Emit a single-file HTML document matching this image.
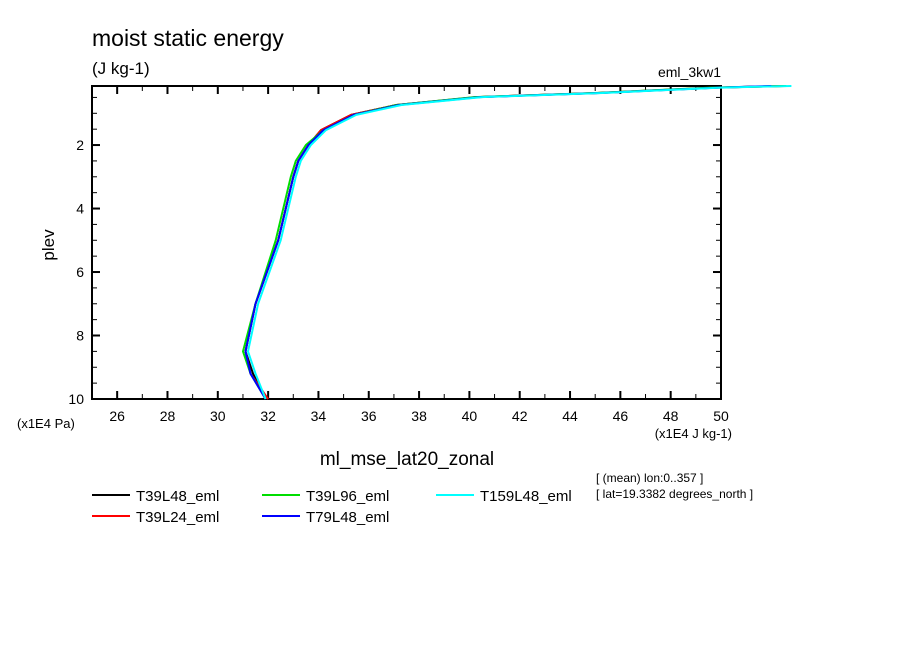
<!DOCTYPE html>
<html><head><meta charset="utf-8"><style>
body{margin:0;background:#fff;}
svg{display:block;font-family:"Liberation Sans",sans-serif;}
</style></head><body>
<svg id="chart" width="904" height="654" xmlns="http://www.w3.org/2000/svg">
<text x="92" y="46" font-size="23">moist static energy</text>
<text x="92" y="74" font-size="17">(J kg-1)</text>
<text x="721" y="77" font-size="14" text-anchor="end">eml_3kw1</text>
<text transform="translate(54,245) rotate(-90)" font-size="17" text-anchor="middle">plev</text>
<text x="17" y="428" font-size="13">(x1E4 Pa)</text>
<text x="732" y="438" font-size="13" text-anchor="end">(x1E4 J kg-1)</text>
<text x="407" y="465" font-size="19" text-anchor="middle">ml_mse_lat20_zonal</text>
<text x="596" y="482" font-size="12">[ (mean) lon:0..357 ]</text>
<text x="596" y="498" font-size="12">[ lat=19.3382 degrees_north ]</text>
<g id="axes"></g>
<g id="series"></g>
<g id="legend"></g>
</svg>
<script>
const levels = [0.14, 0.19, 0.36, 0.49, 0.74, 1.05, 1.53, 2.0, 2.5, 3.0, 5.0, 7.0, 8.5, 9.2, 10.0];
const seriesNames = ["T39L48_eml","T39L24_eml","T39L96_eml","T79L48_eml","T159L48_eml"];
const seriesColors = ["#000000","#ff0000","#00dd00","#0000ff","#00ffff"];
const valsT39L48 = [52.4, 49.8, 45.1, 40.3, 37.1, 35.3, 34.1, 33.6, 33.2, 33.0, 32.4, 31.5, 31.1, 31.4, 31.9];
const valsT39L24 = [52.5, 49.8, 45.1, 40.3, 37.1, 35.3, 34.1, 33.6, 33.2, 33.0, 32.4, 31.5, 31.1, 31.3, 32.0];
const valsT39L96 = [52.6, 49.6, 45.0, 40.2, 37.1, 35.4, 34.2, 33.5, 33.1, 32.9, 32.3, 31.5, 31.0, 31.3, 31.9];
const valsT79L48 = [52.0, 49.9, 45.2, 40.4, 37.2, 35.4, 34.2, 33.6, 33.2, 33.0, 32.4, 31.5, 31.1, 31.3, 31.9];
const valsT159L48 = [52.8, 50.0, 45.3, 40.5, 37.3, 35.5, 34.3, 33.7, 33.3, 33.1, 32.5, 31.6, 31.2, 31.5, 31.9];
const allVals = [valsT39L48, valsT39L24, valsT39L96, valsT79L48, valsT159L48];
const xTicks = [26,28,30,32,34,36,38,40,42,44,46,48,50];
const yTicks = [2,4,6,8,10];

const NS="http://www.w3.org/2000/svg";
const X0=92,X1=721,Y0=86,Y1=399;
const xMin=25,xMax=50,yMin=0.14,yMax=10;
function sx(v){return X0+(v-xMin)/(xMax-xMin)*(X1-X0);}
function sy(v){return Y0+(v-yMin)/(yMax-yMin)*(Y1-Y0);}
function mk(tag,attrs,parent){const e=document.createElementNS(NS,tag);for(const k in attrs)e.setAttribute(k,attrs[k]);parent.appendChild(e);return e;}
const axes=document.getElementById('axes');
const frame=mk('rect',{x:X0,y:Y0,width:X1-X0,height:Y1-Y0,fill:'none',stroke:'#000','stroke-width':2},axes);


for(let v=25;v<=50.001;v+=0.5){
  const major=Math.abs(v-Math.round(v/2)*2)<1e-6, mid=Math.abs(v-Math.round(v))<1e-6;
  const len=major?8:(mid?5:0);
  if(!len)continue;
  mk('line',{x1:sx(v),x2:sx(v),y1:Y1,y2:Y1-len,stroke:'#000','stroke-width':major?2:1},axes);
  mk('line',{x1:sx(v),x2:sx(v),y1:Y0,y2:Y0+len,stroke:'#000','stroke-width':major?2:1},axes);
}
for(let v=0.5;v<=10.001;v+=0.5){
  const major=Math.abs(v-Math.round(v/2)*2)<1e-6;
  const len=major?8:5;
  mk('line',{x1:X0,x2:X0+len,y1:sy(v),y2:sy(v),stroke:'#000','stroke-width':major?2:1},axes);
  mk('line',{x1:X1,x2:X1-len,y1:sy(v),y2:sy(v),stroke:'#000','stroke-width':major?2:1},axes);
}
xTicks.forEach(t=>{
  const e=mk('text',{x:sx(t),y:Y1+22,'font-size':14,'text-anchor':'middle'},axes);
  e.textContent=t;
  
  
});
yTicks.forEach(t=>{
  const e=mk('text',{x:X0-8,y:sy(t)+5,'font-size':14,'text-anchor':'end'},axes);
  e.textContent=t;
  
  
});
const sg=document.getElementById('series');
allVals.forEach((vals,i)=>{
  const pts=vals.map((v,j)=>sx(v).toFixed(1)+','+sy(levels[j]).toFixed(1)).join(' ');
  const p=mk('polyline',{points:pts,fill:'none',stroke:seriesColors[i],'stroke-width':2,'stroke-linejoin':'round'},sg);
  
  
});
const lg=document.getElementById('legend');
const pos=[[92,495],[92,516],[262,495],[262,516],[436,495]];
seriesNames.forEach((n,i)=>{
  const [lx,ly]=pos[i];
  const g=mk('g',{},lg);
  
  
  mk('line',{x1:lx,x2:lx+38,y1:ly,y2:ly,stroke:seriesColors[i],'stroke-width':2},g);
  const t=mk('text',{x:lx+44,y:ly+6,'font-size':15},g);
  t.textContent=n;
});
</script>
</body></html>
